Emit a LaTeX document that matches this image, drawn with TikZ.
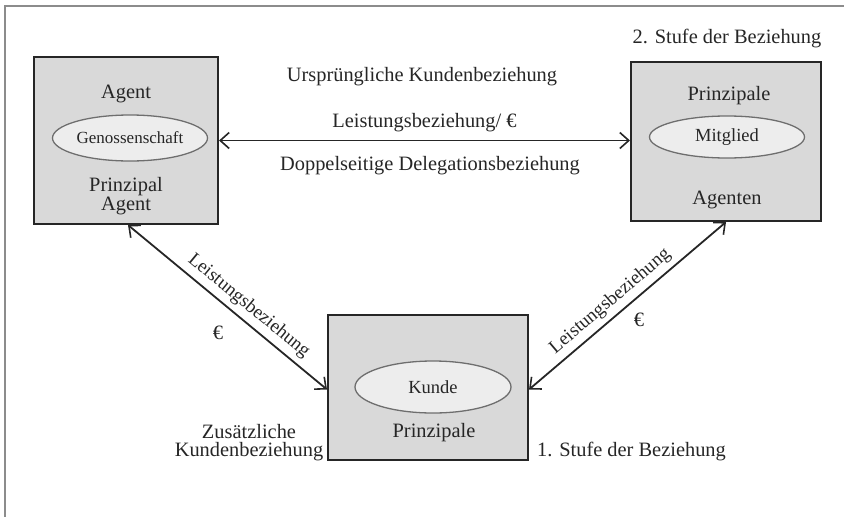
\documentclass[tikz,border=0pt]{standalone}
\usepackage{fontspec}
\setmainfont{Liberation Serif}
\usetikzlibrary{arrows.meta,shapes.geometric}
\definecolor{boxgray}{HTML}{D9D9D9}
\definecolor{ellgray}{HTML}{EDEDED}
\definecolor{ellline}{HTML}{6E6E6E}
\definecolor{inkc}{HTML}{262626}
\definecolor{framec}{HTML}{8C8C8C}
\begin{document}
\begin{tikzpicture}[x=1pt,y=-1pt,
  every node/.style={text=inkc},
  boxnode/.style={draw=inkc, line width=2pt, fill=boxgray, rectangle, inner sep=0pt},
  ellnode/.style={draw=ellline, line width=1.3pt, fill=ellgray, ellipse, inner sep=0pt},
  txt/.style={inner sep=0pt, font=\fontsize{20.4}{24}\selectfont},
  lab/.style={inner sep=0pt, font=\fontsize{19}{22}\selectfont},
  conn/.style={draw=inkc, line width=1.8pt, {Straight Barb[length=9pt,width=16pt,line width=1.6pt]}-{Straight Barb[length=9pt,width=16pt,line width=1.6pt]}},
]
\useasboundingbox (0,0) rectangle (844,517);
% frame
\draw[framec, line width=2pt] (5,517) -- (5,6) -- (844,6);

% boxes
\node[boxnode, minimum width=184pt, minimum height=167pt] (L) at (126,140.5) {};
\node[boxnode, minimum width=190pt, minimum height=159pt] (R) at (726,141.5) {};
\node[boxnode, minimum width=200pt, minimum height=145pt] (B) at (428,387.5) {};

% left box content
\node[txt] (la) at (126,94) {Agent};
\node[ellnode, minimum width=155pt, minimum height=46pt, font=\fontsize{17}{20}\selectfont] (gen) at (130,138) {Genossenschaft};
\node[txt] (lp) at (126,187) {Prinzipal};
\node[txt] (la2) at (126,206) {Agent};

% right box content
\node[txt] (rp) at (729,96) {Prinzipale};
\node[ellnode, minimum width=155pt, minimum height=42pt, font=\fontsize{18.5}{22}\selectfont] (mit) at (727,137) {Mitglied};
\node[txt] (ra) at (727,200) {Agenten};

% bottom box content
\node[ellnode, minimum width=156pt, minimum height=52pt, font=\fontsize{18.5}{22}\selectfont] (kun) at (433,387) {Kunde};
\node[txt] (bp) at (434,433) {Prinzipale};

% free texts
\node[txt] (stufe2) at (727,39) {2. Stufe der Beziehung};
\node[txt] (ursp) at (422,77) {Ursprüngliche Kundenbeziehung};
\node[txt] (doppel) at (430,166) {Doppelseitige Delegationsbeziehung};
\node[txt] (zus1) at (249,432) {Zusätzliche};
\node[txt] (zus2) at (249,452) {Kundenbeziehung};
\node[txt, anchor=west] (stufe1) at (537,452) {1. Stufe der Beziehung};
\node[txt] (eur1) at (218,333) {€};
\node[txt] (eur2) at (639,320) {€};

% connectors
\draw[conn] (L.east) -- node[above=8pt, txt] (lb) {Leistungsbeziehung/ €} (L.east -| R.west);
\draw[conn] ([xshift=2pt]L.south) -- node[sloped, above=5pt, pos=0.56, lab] (ll) {Leistungsbeziehung} ([yshift=-2pt]B.west);
\draw[conn] ([yshift=-2pt]B.east) -- node[sloped, above=5pt, pos=0.46, lab] (rl) {Leistungsbeziehung} (R.south);
\end{tikzpicture}
\end{document}
